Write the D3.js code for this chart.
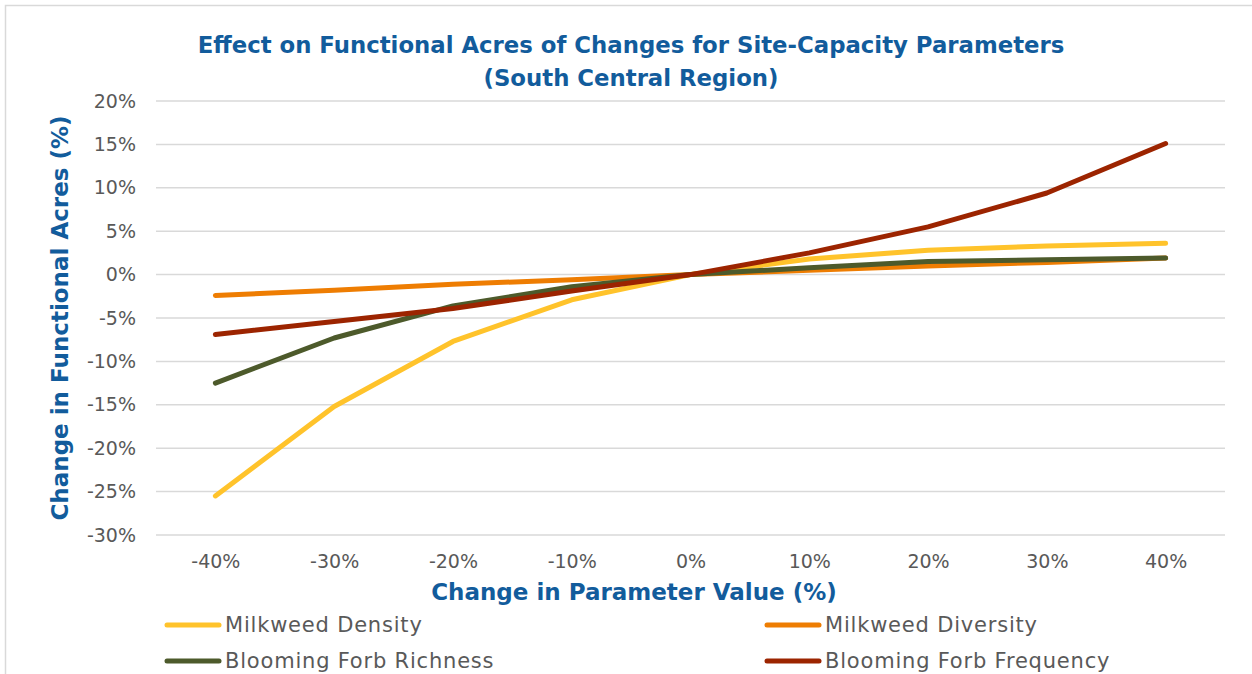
<!DOCTYPE html>
<html>
<head>
<meta charset="utf-8">
<script src="https://cdn.jsdelivr.net/npm/d3@7"></script>
<style>
  body { margin: 0; background: #fff; }
  svg { display: block; }
  text { font-family: "DejaVu Sans", "Liberation Sans", sans-serif; }
</style>
</head>
<body>
<svg id="chart" width="1252" height="674"></svg>
<script>
// data
const categories = ['-40%', '-30%', '-20%', '-10%', '0%', '10%', '20%', '30%', '40%'];
const milkweedDensity = [-25.5, -15.2, -7.7, -2.9, 0, 1.8, 2.8, 3.3, 3.6];
const milkweedDiversity = [-2.4, -1.8, -1.1, -0.6, 0, 0.5, 1.0, 1.4, 1.9];
const forbRichness = [-12.5, -7.3, -3.6, -1.4, 0, 0.8, 1.5, 1.7, 1.9];
const forbFrequency = [-6.9, -5.4, -3.9, -1.9, 0, 2.5, 5.5, 9.4, 15.1];
const seriesNames = ['Milkweed Density', 'Milkweed Diversity', 'Blooming Forb Richness', 'Blooming Forb Frequency'];
const yTicks = [20, 15, 10, 5, 0, -5, -10, -15, -20, -25, -30];

const colors = ['#FFC32B', '#EE7D02', '#4D5A2B', '#9C2400'];
const series = [milkweedDensity, milkweedDiversity, forbRichness, forbFrequency];

const svg = d3.select('#chart');
const blue = '#125C9C';
const grey = '#595959';

// chart frame
svg.append('rect')
    .attr('x', 5.5).attr('y', 5.5)
    .attr('width', 1260).attr('height', 720)
    .attr('fill', 'none')
    .attr('stroke', '#D9D9D9')
    .attr('stroke-width', 1.5);

const plot = { left: 156, right: 1225, top: 101, bottom: 535 };

const x = d3.scalePoint().domain(categories).range([plot.left, plot.right]).padding(0.5);
const y = d3.scaleLinear().domain([-30, 20]).range([plot.bottom, plot.top]);

// gridlines
svg.append('g').selectAll('line')
    .data(yTicks)
    .enter()
    .append('line')
    .attr('x1', plot.left).attr('x2', plot.right)
    .attr('y1', d => y(d)).attr('y2', d => y(d))
    .attr('stroke', '#D9D9D9')
    .attr('stroke-width', 1.5);

// y axis labels
const yAxis = svg.append('g')
    .attr('transform', `translate(${plot.left - 20},0)`)
    .call(d3.axisLeft(y).tickValues(yTicks).tickFormat(d => d + '%').tickSize(0).tickPadding(0));
yAxis.select('.domain').remove();
yAxis.selectAll('text')
    .attr('fill', grey)
    .style('font-size', '19px')
    .style('font-family', '"DejaVu Sans", sans-serif');

// x axis labels
const xAxis = svg.append('g')
    .attr('transform', `translate(0,${plot.bottom + 19})`)
    .call(d3.axisBottom(x).tickSize(0).tickPadding(0));
xAxis.select('.domain').remove();
xAxis.selectAll('text')
    .attr('fill', grey)
    .attr('dy', '0.75em')
    .style('font-size', '19px')
    .style('font-family', '"DejaVu Sans", sans-serif');

// lines
const line = d3.line()
    .x((d, i) => x(categories[i]))
    .y(d => y(d));

svg.append('g').selectAll('path')
    .data(series)
    .enter()
    .append('path')
    .attr('d', line)
    .attr('fill', 'none')
    .attr('stroke', (d, i) => colors[i])
    .attr('stroke-width', 5)
    .attr('stroke-linecap', 'round')
    .attr('stroke-linejoin', 'round');

// titles
const title = svg.append('text')
    .attr('x', 631).attr('y', 53)
    .attr('text-anchor', 'middle')
    .attr('fill', blue)
    .style('font-size', '22.8px')
    .style('font-weight', 'bold');
title.append('tspan').attr('x', 631).text('Effect on Functional Acres of Changes for Site-Capacity Parameters');
title.append('tspan').attr('x', 631).attr('dy', 33).text('(South Central Region)');

svg.append('text')
    .attr('transform', 'translate(68,318) rotate(-90)')
    .attr('text-anchor', 'middle')
    .attr('fill', blue)
    .style('font-size', '23px')
    .style('font-weight', 'bold')
    .text('Change in Functional Acres (%)');

svg.append('text')
    .attr('x', 634).attr('y', 600)
    .attr('text-anchor', 'middle')
    .attr('fill', blue)
    .style('font-size', '23px')
    .style('font-weight', 'bold')
    .text('Change in Parameter Value (%)');

// legend
const legend = svg.append('g').selectAll('g')
    .data(seriesNames)
    .enter()
    .append('g')
    .attr('transform', (d, i) => `translate(${i % 2 === 0 ? 167 : 767},${i < 2 ? 625 : 661})`);

legend.append('line')
    .attr('x1', 0).attr('x2', 52)
    .attr('stroke', (d, i) => colors[i])
    .attr('stroke-width', 5)
    .attr('stroke-linecap', 'round');

legend.append('text')
    .attr('x', 58)
    .attr('dy', '0.35em')
    .attr('fill', grey)
    .style('font-size', '21px')
    .style('letter-spacing', '0.8px')
    .text(d => d);
</script>
</body>
</html>
